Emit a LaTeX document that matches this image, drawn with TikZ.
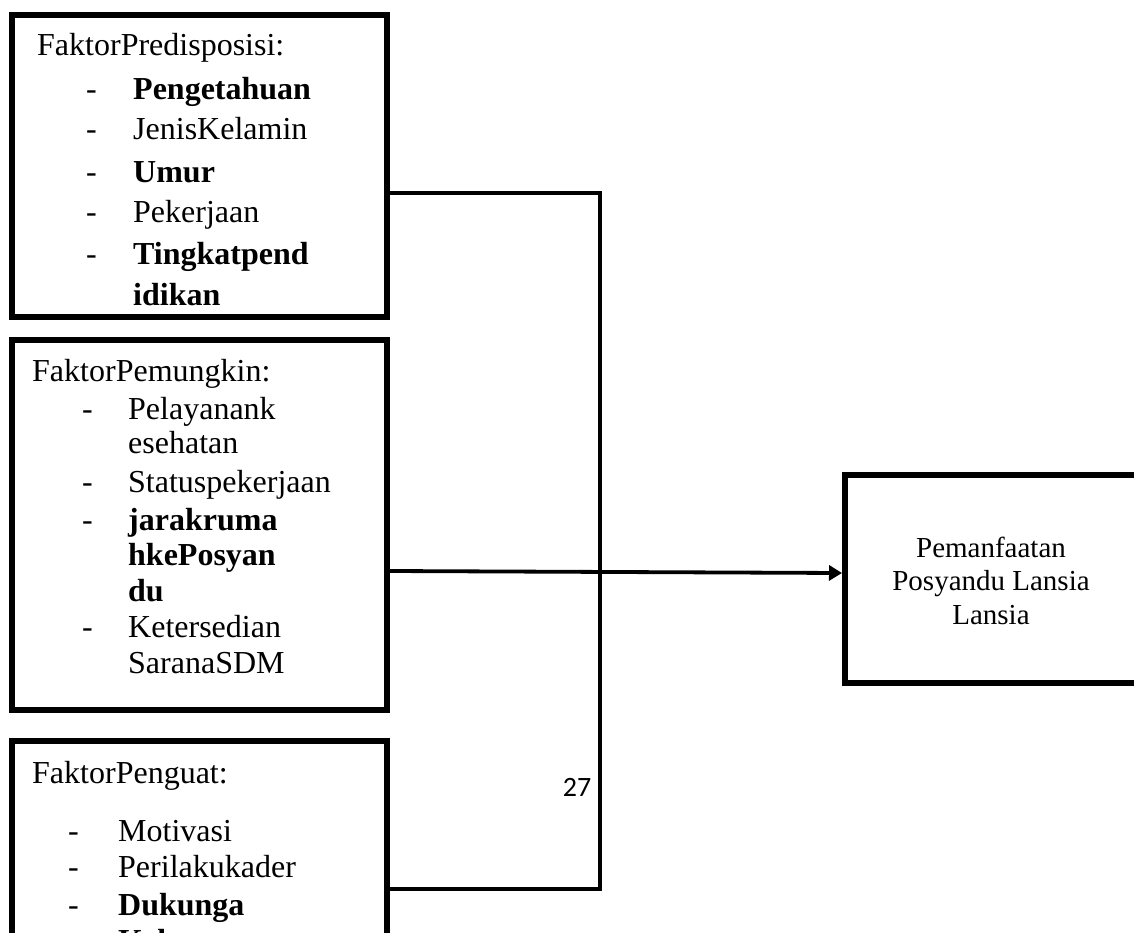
\documentclass[tikz,border=0pt]{standalone}
\usepackage{fontspec}
\setmainfont{Liberation Serif}
\newfontfamily\pgfont{Carlito}
\usetikzlibrary{arrows.meta}
\begin{document}
\begin{tikzpicture}[x=1pt,y=-1pt,
  box/.style={draw, line width=6pt, inner sep=0pt, outer sep=3pt},
  conn/.style={line width=3.8pt},
  txt/.style={anchor=base west, inner sep=0pt, font=\fontsize{32}{38}\selectfont},
  btxt/.style={anchor=base west, inner sep=0pt, font=\fontsize{32}{38}\selectfont\bfseries},
  ctxt/.style={anchor=base, inner sep=0pt, font=\fontsize{29}{33}\selectfont},
]
\useasboundingbox (0,0) rectangle (1134,933);
% boxes
\node[box, minimum width=375pt, minimum height=302pt] (b1) at (199.5,166) {};
\node[box, minimum width=375pt, minimum height=370pt] (b2) at (199.5,525) {};
\node[box, minimum width=375pt, minimum height=259pt] (b3) at (199.5,870.5) {};
\node[box, minimum width=295pt, minimum height=208pt] (b4) at (992.5,579) {};
% box 1 text
\node[txt] (h1) at (37,56) {FaktorPredisposisi:};
\node[txt] (d1a) at (86,100) {-};
\node[txt] (d1b) at (86,140) {-};
\node[txt] (d1c) at (86,183) {-};
\node[txt] (d1d) at (86,223) {-};
\node[txt] (d1e) at (86,265) {-};
\node[btxt] (i1a) at (133,100) {Pengetahuan};
\node[txt] (i1b) at (133,140) {JenisKelamin};
\node[btxt] (i1c) at (133,183) {Umur};
\node[txt] (i1d) at (133,223) {Pekerjaan};
\node[btxt] (i1e) at (133,265) {Tingkatpend};
\node[btxt] (i1f) at (133,305) {idikan};
% box 2 text
\node[txt] (h2) at (32,381) {FaktorPemungkin:};
\node[txt] (d2a) at (82,419) {-};
\node[txt] (d2b) at (82,492) {-};
\node[txt] (d2c) at (82,530) {-};
\node[txt] (d2d) at (82,637) {-};
\node[txt] (i2a) at (128,419) {Pelayanank};
\node[txt] (i2b) at (128,453) {esehatan};
\node[txt] (i2c) at (128,492) {Statuspekerjaan};
\node[btxt] (i2d) at (128,530) {jarakruma};
\node[btxt] (i2e) at (128,565) {hkePosyan};
\node[btxt] (i2f) at (128,601) {du};
\node[txt] (i2g) at (128,637) {Ketersedian};
\node[txt] (i2h) at (128,673) {SaranaSDM};
% box 3 text
\node[txt] (h3) at (32,783) {FaktorPenguat:};
\node[txt] (d3a) at (68,841) {-};
\node[txt] (d3b) at (68,877) {-};
\node[txt] (d3c) at (68,915) {-};
\node[txt] (i3a) at (118,841) {Motivasi};
\node[txt] (i3b) at (118,877) {Perilakukader};
\node[btxt] (i3c) at (118,915) {Dukunga};
\node[btxt] (i3d) at (118,951) {Keluarga};
% target box text
\node[ctxt] (r1) at (991,557) {Pemanfaatan};
\node[ctxt] (r2) at (991,590) {Posyandu Lansia};
\node[ctxt] (r3) at (991,624) {Lansia};
% page number
\node[inner sep=0pt, font=\pgfont\fontsize{28}{30}\selectfont] (pg) at (577,787) {27};
% connectors
\coordinate (j1) at (600,193);
\coordinate (j2) at (600,889);
\draw[conn] (b1.east |- j1) -- (j1) -- (j2) -- (b3.east |- j2);
\coordinate (m1) at (0,571);
\coordinate (m2) at (0,573);
\draw[conn, -{Triangle[length=13pt,width=15pt]}] (b2.east |- m1) -- (b4.west |- m2);
\end{tikzpicture}
\end{document}
